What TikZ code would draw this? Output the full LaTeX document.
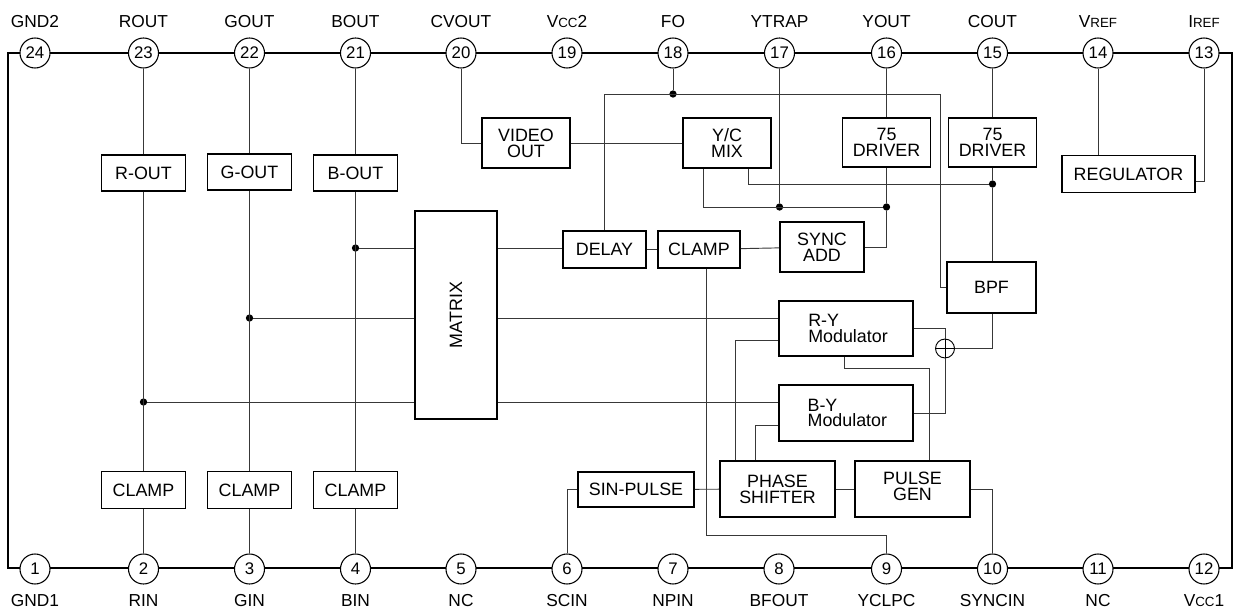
\documentclass[tikz,border=0pt]{standalone}
\usepackage{fontspec}
\setmainfont{Liberation Sans}
\newcommand{\sm}[1]{{\fontsize{10}{10}\selectfont #1}}
\tikzset{
  x=0.75pt,y=-0.75pt,
  txt/.style={font=\fontsize{13}{12}\selectfont,inner sep=0pt},
  box/.style={draw=black,line width=1.25pt,fill=white,inner sep=0pt,align=center,font=\fontsize{13.4}{11.8}\selectfont},
  pin/.style={circle,draw=black,line width=0.8pt,fill=white,minimum size=22.5pt,inner sep=0pt,font=\fontsize{12.6}{12.6}\selectfont},
  wire/.style={draw=black!78,line width=0.7pt},
  dot/.style={circle,fill=black,inner sep=0pt,minimum size=5.5pt},
  bodyline/.style={draw=black,line width=1.7pt},
}
\newcommand{\bx}[5]{\node[box,minimum width=#3*0.75pt,minimum height=#4*0.75pt] (#1) at (#2) {#5};}
\begin{document}
\begin{tikzpicture}
\useasboundingbox (0,0) rectangle (1234,610);
\coordinate (tl) at (8,53);
\coordinate (br) at (1232,568);
\draw[bodyline] (tl) rectangle (br);
\coordinate (bR) at (143.5,402);
\coordinate (bB) at (355.5,248);
% boxes
\bx{rout}{143.5,173}{84}{36}{R-OUT}
\bx{gout}{249.5,172}{84}{36}{G-OUT}
\bx{bout}{355.5,173}{84}{36}{B-OUT}
\bx{cl2}{143.5,490}{84}{37}{CLAMP}
\bx{cl3}{249.5,490}{84}{37}{CLAMP}
\bx{cl4}{355.5,490}{84}{37}{CLAMP}
\bx{video}{526,143}{88}{50}{VIDEO\\OUT}
\bx{ymix}{727,143}{88}{50}{Y/C\\MIX}
\bx{drv1}{886.5,142.5}{88}{49}{75\\DRIVER}
\bx{drv2}{992.5,142.5}{88}{49}{75\\DRIVER}
\bx{reg}{1128.5,174}{133}{37}{REGULATOR}
\bx{delay}{604.5,249.5}{83}{37}{DELAY}
\bx{clampc}{699,249.5}{82}{37}{CLAMP}
\bx{sync}{822,247}{84}{50}{SYNC\\ADD}
\bx{matrix}{456,315}{82}{208}{\rotatebox{90}{MATRIX}}
\bx{bpf}{991.5,287.5}{89}{51}{BPF}
\node[box,minimum width=134*0.75pt,minimum height=55*0.75pt,align=left] (ry) at (846,328.5) {\hspace*{3pt}R-Y\\\hspace*{3pt}Modulator};
\node[box,minimum width=134*0.75pt,minimum height=56*0.75pt,align=left] (by) at (846,413) {\hspace*{2pt}B-Y\\\hspace*{2pt}Modulator};
\bx{phase}{777.5,489}{115}{56}{PHASE\\SHIFTER}
\bx{pulse}{912.5,489}{115}{56}{}
\node[align=center,inner sep=0pt,font=\fontsize{13.4}{11.8}\selectfont] (pulsetext) at (912.5,486.5) {PULSE\\GEN};
\bx{sinp}{636,489.5}{116}{35}{SIN-PULSE}
% summing point
\node[circle,draw=black,line width=0.7pt,fill=white,minimum size=14.2pt,inner sep=0pt] (sum) at (945,348.5) {};
\draw[line width=0.5pt] (sum.north) -- (sum.south) (sum.west) -- (sum.east);
% pins
\foreach \n/\x/\t in {24/35/GND2,23/143.5/ROUT,22/249.5/GOUT,21/355.5/BOUT,20/461/CVOUT,19/567/{V\sm{CC}2},18/673/FO,17/779.5/YTRAP,16/886.5/YOUT,15/992.5/COUT,14/1098/{V\sm{REF}},13/1204/{I\sm{REF}}}{
  \node[pin] (p\n) at (\x,53) {\n};
  \node[txt,anchor=base] (lt\n) at (\x,28) {\t};
}
\foreach \n/\x/\t in {1/35/GND1,2/143.5/RIN,3/249.5/GIN,4/355.5/BIN,5/461/NC,6/567/SCIN,7/673/NPIN,8/779/BFOUT,9/886.5/YCLPC,10/992.5/SYNCIN,11/1098/NC,12/1204/{V\sm{CC}1}}{
  \node[pin] (p\n) at (\x,569) {\n};
  \node[txt,anchor=base] (lb\n) at (\x,606) {\t};
}
% dots
\node[dot] (dR) at (bR) {};
\node[dot] (dG) at (249.5,318) {};
\node[dot] (dB) at (bB) {};
\node[dot] (d18) at (673,94) {};
\node[dot] (d17) at (779.5,207) {};
\node[dot] (d16) at (886.5,207) {};
\node[dot] (d15) at (992.5,184) {};
% bends
\coordinate (bpfin) at (940,94);
\coordinate (clb) at (706,535);
\coordinate (rybend) at (844,368);
\coordinate (pulsetop) at (929,368);
% wires
\draw[wire] (p23) -- (rout) (rout) -- (cl2) (cl2) -- (p2);
\draw[wire] (p22) -- (gout) (gout) -- (cl3) (cl3) -- (p3);
\draw[wire] (p21) -- (bout) (bout) -- (cl4) (cl4) -- (p4);
\draw[wire] (dR) -- (dR -| matrix.west) (by.west |- dR) -- (dR -| matrix.east);
\draw[wire] (dG) -- (dG -| matrix.west) (ry.west |- dG) -- (dG -| matrix.east);
\draw[wire] (dB) -- (dB -| matrix.west) (delay.west |- dB) -- (dB -| matrix.east);
\draw[wire] (delay) -- (clampc);
\draw[wire] (clampc) -- (sync);
\draw[wire] (p20) |- (video.west);
\draw[wire] (video) -- (ymix);
\draw[wire] (p18) -- (d18);
\draw[wire] (delay.north) |- (bpfin) |- (bpf.west);
\draw[wire] (ymix.south -| 703,0) |- (d16);
\draw[wire] (p17) -- (d17);
\draw[wire] (ymix.south -| 748,0) |- (d15);
\draw[wire] (p16) -- (drv1);
\draw[wire] (drv1.south -| d16) -- (d16);
\draw[wire] (d16) |- (sync.east);
\draw[wire] (p15) -- (drv2);
\draw[wire] (drv2.south -| d15) -- (d15);
\draw[wire] (d15) -- (bpf.north -| d15);
\draw[wire] (bpf.south -| d15) |- (sum.east);
\draw[wire] (ry.east |- 0,328) -| (sum.north);
\draw[wire] (by.east) -| (sum.south);
\draw[wire] (ry.south -| rybend) |- (pulsetop) -- (pulse.north -| pulsetop);
\draw[wire] (phase.north -| 735,0) |- (ry.west |- 0,340);
\draw[wire] (phase.north -| 755,0) |- (by.west |- 0,425);
\draw[wire] (sinp) -- (phase);
\draw[wire] (phase) -- (pulse);
\draw[wire] (pulse.east) -| (p10);
\draw[wire] (clampc.south -| clb) -- (clb) -| (p9);
\draw[wire] (sinp.west) -| (p6);
\draw[wire] (p14) -- (reg.north -| p14);
\draw[wire] (p13) |- (reg.east |- 0,181);
\end{tikzpicture}
\end{document}
